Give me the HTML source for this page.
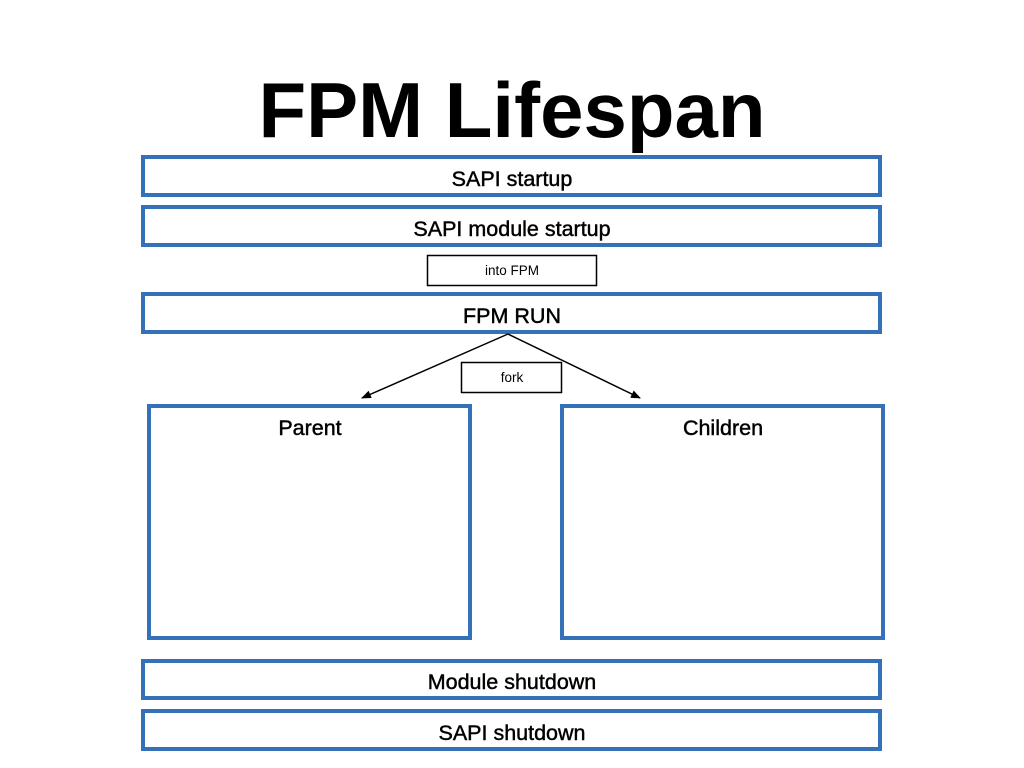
<!DOCTYPE html>
<html><head><style>body{margin:0;background:#fff}svg{display:block}</style></head><body>
<svg width="1024" height="768" xmlns="http://www.w3.org/2000/svg" font-family="Liberation Sans, sans-serif">
<defs><marker id="a" markerWidth="10" markerHeight="8" refX="9" refY="4" orient="auto" markerUnits="userSpaceOnUse"><path d="M0,0 L10,4 L0,8 Z" fill="#000"/></marker></defs>
<text x="512" y="137" font-size="78" font-weight="bold" text-anchor="middle">FPM Lifespan</text>
<g fill="none" stroke="#3571b8" stroke-width="4">
<rect x="143" y="157" width="737" height="38"/>
<rect x="143" y="207" width="737" height="38"/>
<rect x="143" y="294" width="737" height="38"/>
<rect x="149" y="406" width="321" height="232"/>
<rect x="562" y="406" width="321" height="232"/>
<rect x="143" y="661" width="737" height="37"/>
<rect x="143" y="711" width="737" height="38"/>
</g>
<g fill="none" stroke="#000" stroke-width="1.5">
<rect x="427.5" y="255.5" width="169" height="30"/>
<rect x="461.5" y="362.5" width="100" height="30"/>
<line x1="508" y1="334" x2="362" y2="398" marker-end="url(#a)"/>
<line x1="508" y1="334" x2="640" y2="398" marker-end="url(#a)"/>
</g>
<g font-size="21.5" text-anchor="middle" fill="#000" stroke="#000" stroke-width="0.45">
<text x="512" y="186">SAPI startup</text>
<text x="512" y="236">SAPI module startup</text>
<text x="512" y="323">FPM RUN</text>
<text x="310" y="435">Parent</text>
<text x="723" y="435">Children</text>
<text x="512" y="689">Module shutdown</text>
<text x="512" y="740">SAPI shutdown</text>
</g>
<g font-size="13.5" text-anchor="middle">
<text x="512" y="275">into FPM</text>
<text x="512" y="382">fork</text>
</g>
</svg>
</body></html>
